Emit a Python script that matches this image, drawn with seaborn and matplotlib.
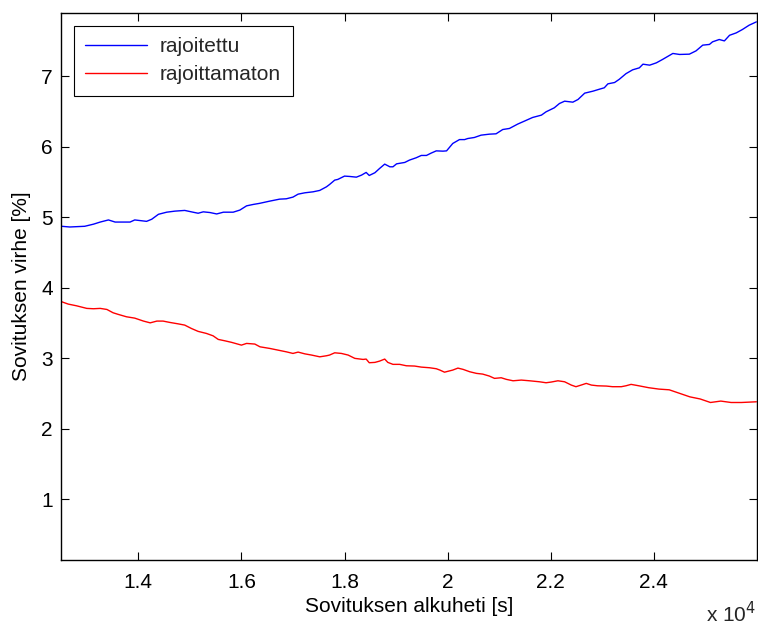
import matplotlib
matplotlib.use("Agg")
import matplotlib.pyplot as plt
import seaborn as sns
import pandas as pd
from matplotlib.ticker import FuncFormatter, FixedLocator

# ---- data ----
blue_x = [12510, 12670, 12960, 13130, 13260, 13420, 13550, 13840, 13930, 14160,
          14260, 14390, 14550, 14710, 14900, 15060, 15160, 15260, 15390, 15520,
          15650, 15840, 15970, 16100, 16230, 16350, 16550, 16740, 16870, 17000,
          17100, 17230, 17390, 17520, 17650, 17710, 17810, 17870, 18000, 18100,
          18230, 18330, 18420, 18480, 18590, 18680, 18780, 18880, 18940, 19010,
          19170, 19260, 19390, 19490, 19590, 19680, 19780, 19910, 19980, 20100,
          20230, 20330, 20390, 20520, 20650, 20810, 20940, 21070, 21200, 21360,
          21490, 21650, 21820, 21910, 22070, 22170, 22270, 22430, 22530, 22660,
          22820, 22950, 23040, 23110, 23240, 23330, 23460, 23590, 23720, 23790,
          23920, 24050, 24170, 24370, 24500, 24690, 24820, 24950, 25080, 25140,
          25270, 25370, 25470, 25600, 25720, 25850, 25990]
blue_y = [4.87, 4.86, 4.87, 4.90, 4.93, 4.96, 4.93, 4.93, 4.96, 4.94,
          4.97, 5.04, 5.07, 5.085, 5.095, 5.07, 5.055, 5.075, 5.065, 5.045,
          5.07, 5.07, 5.10, 5.16, 5.18, 5.195, 5.227, 5.255, 5.26, 5.284,
          5.326, 5.345, 5.359, 5.379, 5.43, 5.463, 5.525, 5.535, 5.582, 5.577,
          5.567, 5.596, 5.634, 5.591, 5.63, 5.69, 5.752, 5.714, 5.714, 5.756,
          5.776, 5.809, 5.842, 5.875, 5.875, 5.908, 5.94, 5.936, 5.94, 6.045,
          6.10, 6.10, 6.115, 6.13, 6.163, 6.177, 6.182, 6.243, 6.258, 6.32,
          6.362, 6.414, 6.447, 6.494, 6.551, 6.612, 6.645, 6.631, 6.669, 6.759,
          6.787, 6.816, 6.835, 6.891, 6.91, 6.955, 7.035, 7.09, 7.118, 7.17,
          7.156, 7.189, 7.237, 7.322, 7.308, 7.312, 7.359, 7.44, 7.45, 7.487,
          7.52, 7.50, 7.58, 7.614, 7.662, 7.723, 7.77]

red_x = [12510, 12640, 12800, 13000, 13130, 13260, 13390, 13510, 13610, 13770,
         13930, 14100, 14230, 14360, 14480, 14610, 14770, 14900, 15030, 15160,
         15320, 15450, 15550, 15680, 15810, 16000, 16100, 16260, 16360, 16550,
         16710, 16870, 17000, 17100, 17230, 17360, 17520, 17650, 17710, 17810,
         17940, 18070, 18200, 18360, 18420, 18480, 18590, 18680, 18780, 18840,
         18940, 19070, 19200, 19360, 19490, 19650, 19780, 19850, 19940, 20100,
         20200, 20300, 20430, 20560, 20680, 20810, 20910, 21040, 21140, 21270,
         21430, 21590, 21780, 21910, 22010, 22140, 22270, 22400, 22490, 22590,
         22690, 22790, 22910, 23080, 23200, 23370, 23460, 23560, 23710, 23900,
         24100, 24300, 24500, 24700, 24900, 25100, 25300, 25500, 25700, 25990]
red_y = [3.80, 3.766, 3.742, 3.705, 3.70, 3.705, 3.69, 3.643, 3.62, 3.586,
         3.567, 3.525, 3.50, 3.525, 3.525, 3.506, 3.486, 3.468, 3.42, 3.379,
         3.35, 3.316, 3.265, 3.245, 3.223, 3.184, 3.208, 3.199, 3.16, 3.137,
         3.113, 3.089, 3.066, 3.085, 3.06, 3.043, 3.018, 3.033, 3.043, 3.075,
         3.066, 3.043, 2.996, 2.981, 2.986, 2.934, 2.939, 2.957, 2.986, 2.939,
         2.911, 2.911, 2.891, 2.887, 2.872, 2.863, 2.849, 2.83, 2.80, 2.83,
         2.858, 2.84, 2.806, 2.783, 2.773, 2.745, 2.712, 2.721, 2.698, 2.678,
         2.688, 2.678, 2.664, 2.65, 2.66, 2.678, 2.664, 2.617, 2.594, 2.617,
         2.641, 2.617, 2.607, 2.603, 2.594, 2.594, 2.607, 2.627, 2.607, 2.58,
         2.56, 2.55, 2.50, 2.45, 2.42, 2.37, 2.39, 2.37, 2.37, 2.38]

series_names = ["rajoitettu", "rajoittamaton"]
x_ticks = [14000, 16000, 18000, 20000, 22000, 24000]
y_ticks = [1, 2, 3, 4, 5, 6, 7]
x_label = "Sovituksen alkuheti [s]"
y_label = "Sovituksen virhe [%]"

df = pd.concat([
    pd.DataFrame({"x": blue_x, "y": blue_y, "series": series_names[0]}),
    pd.DataFrame({"x": red_x, "y": red_y, "series": series_names[1]}),
], ignore_index=True)

sns.set_theme(style="ticks")
plt.rcParams["font.family"] = ["Liberation Sans", "DejaVu Sans"]
plt.rcParams["axes.edgecolor"] = "black"
plt.rcParams["axes.linewidth"] = 1.0

FS = 15
fig = plt.figure(figsize=(7.58, 6.26), dpi=100)
ax = fig.add_axes([0.0805, 0.1054, 0.918, 0.8736])

sns.lineplot(data=df, x="x", y="y", hue="series",
             palette={series_names[0]: "#0000ff", series_names[1]: "#ff0000"},
             linewidth=1.0, ax=ax, estimator=None, sort=False)

ax.set_xlim(12500, 26000)
ax.set_ylim(0.135, 7.894)
ax.xaxis.set_major_locator(FixedLocator(x_ticks))
ax.yaxis.set_major_locator(FixedLocator(y_ticks))
ax.xaxis.set_major_formatter(FuncFormatter(lambda v, p: f"{v/1e4:g}"))
ax.yaxis.set_major_formatter(FuncFormatter(lambda v, p: f"{v:g}"))
ax.tick_params(direction="in", length=6, width=0.8, top=True, right=True,
               labelsize=FS, colors="black")
ax.tick_params(axis="x", pad=9)
ax.tick_params(axis="y", pad=6)
for s in ax.spines.values():
    s.set_visible(True)
    s.set_color("black")

ax.set_xlabel(x_label, fontsize=FS, labelpad=4, color="black")
ax.set_ylabel(y_label, fontsize=FS, labelpad=7, color="black")
fig.text(0.997, 0.0, r"x 10$^4$", ha="right", va="bottom", fontsize=FS)

leg = ax.legend(loc="upper left", fontsize=FS, frameon=True, fancybox=False,
                edgecolor="black", framealpha=1, handlelength=3.0,
                handletextpad=0.6, borderaxespad=0.6, borderpad=0.55,
                labelspacing=0.45)
leg.get_frame().set_linewidth(0.8)
leg.set_title(None)

fig.savefig("out.png", dpi=100)
